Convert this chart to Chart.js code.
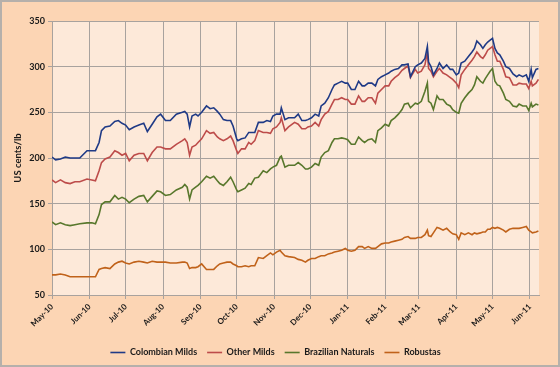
<!DOCTYPE html>
<html>
<head>
<meta charset="utf-8">
<script src="https://cdn.jsdelivr.net/npm/chart.js@4"></script>
<style>
  html, body { margin: 0; padding: 0; background: #ffffff; }
  #wrap { width: 560px; height: 367px; }
</style>
</head>
<body>
<div id="wrap"><canvas id="chart" width="560" height="367"></canvas></div>
<script>
// days since 1 May 2010
const days = [
  0, 3, 7, 11, 15, 19, 23, 29, 33, 36, 39, 41, 44, 48, 52, 55, 58, 61, 64, 68, 72, 76, 79, 83, 87, 90, 94, 98,
  103, 108, 110, 112, 114, 116, 119, 121, 124, 128, 131, 134, 137, 139, 142, 145, 148, 150, 153, 154, 157, 160,
  163, 165, 168, 171, 175, 178, 181, 183, 186, 189, 190, 193, 196,
  201, 204, 207, 210, 212, 215, 218, 221, 223, 226, 229, 232, 234, 237, 240, 243, 245, 248, 251, 254, 257, 259,
  262, 265, 268, 270, 273, 276, 279, 281, 284, 287, 290, 292, 295,
  297, 301, 303, 306, 309, 311, 312, 314, 316, 319, 321, 324, 327, 330, 332, 335, 337, 339, 342, 345, 348, 350,
  352, 355, 357, 359, 361, 363, 365, 367, 369, 371, 374, 376, 379, 382, 385, 387, 390, 393, 395, 397, 398, 401, 403
];

const colombianMilds = [
  201, 198, 199, 201, 200, 200, 200, 208, 208, 208, 217, 230, 234, 235, 240, 241, 238, 236, 231, 234, 236, 238, 229, 237, 245, 248, 241, 241,
  248, 250, 251, 248, 234, 246, 248, 246, 250, 257, 254, 255, 251, 248, 242, 241, 241, 235, 221, 219, 221, 222,
  228, 228, 228, 239, 239, 241, 240, 246, 248, 248, 255, 242, 244,
  244, 248, 241, 241, 242, 244, 248, 246, 257, 260, 266, 275, 280, 282, 284, 282, 282, 275, 275, 284, 279, 279,
  282, 282, 279, 286, 289, 291, 293, 295, 297, 298, 302, 302, 303,
  289, 300, 302, 304, 309, 322, 305, 300, 291, 298, 304, 298, 302, 297, 297, 291, 293, 304, 306, 311, 316, 320,
  328, 324, 320, 324, 327, 329, 331, 320, 315, 313, 306, 300, 298, 292, 289, 291, 289, 291, 284, 297, 288, 297, 298
];

const otherMilds = [
  176, 173, 176, 173, 172, 174, 174, 177, 176, 175, 186, 195, 199, 201, 208, 206, 203, 205, 197, 203, 205, 205, 197, 206, 212, 212, 210, 210,
  215, 219, 221, 217, 203, 212, 214, 217, 221, 230, 227, 228, 223, 221, 219, 221, 224, 219, 208, 205, 210, 210,
  217, 215, 219, 230, 228, 228, 227, 232, 234, 239, 244, 230, 234,
  239, 237, 232, 232, 234, 235, 239, 235, 242, 248, 251, 259, 264, 264, 266, 264, 264, 259, 259, 268, 262, 262,
  266, 266, 260, 271, 275, 279, 279, 284, 288, 291, 296, 298, 301,
  288, 297, 293, 295, 302, 316, 298, 295, 289, 295, 298, 293, 291, 288, 286, 282, 277, 291, 297, 302, 307, 311,
  316, 311, 309, 313, 318, 320, 322, 313, 306, 306, 297, 289, 288, 280, 280, 282, 281, 281, 276, 284, 279, 282, 286
];

const brazilianNaturals = [
  130, 127, 129, 127, 126, 127, 128, 129, 129, 128, 138, 149, 152, 152, 159, 155, 157, 155, 151, 155, 158, 159, 152, 158, 164, 163, 159, 160,
  165, 168, 171, 168, 155, 165, 168, 170, 174, 180, 178, 180, 175, 172, 170, 174, 179, 174, 165, 163, 165, 167,
  172, 171, 178, 179, 186, 184, 188, 190, 192, 201, 202, 190, 192,
  192, 195, 192, 188, 188, 190, 194, 192, 201, 206, 208, 217, 221, 221, 222, 221, 220, 215, 215, 223, 219, 217,
  220, 221, 217, 230, 233, 237, 235, 241, 244, 248, 253, 259, 260,
  255, 260, 259, 262, 273, 282, 262, 260, 253, 268, 264, 264, 259, 257, 253, 250, 249, 260, 266, 271, 275, 280,
  289, 284, 282, 287, 291, 295, 298, 284, 280, 279, 271, 264, 262, 257, 256, 259, 257, 257, 252, 260, 256, 259, 258
];

const robustas = [
  72, 72, 73, 72, 70, 70, 70, 70, 70, 70, 78, 79, 80, 79, 84, 86, 87, 85, 84, 86, 87, 86, 85, 87, 86, 86, 86, 85,
  85, 86, 86, 85, 79, 80, 80, 81, 84, 78, 78, 78, 82, 84, 85, 86, 86, 84, 82, 81, 81, 82,
  81, 82, 82, 91, 90, 93, 96, 94, 97, 99, 97, 93, 92,
  91, 89, 88, 86, 88, 90, 90, 92, 93, 93, 95, 96, 97, 98, 99, 101, 99, 98, 99, 103, 103, 101,
  103, 101, 101, 103, 106, 107, 107, 108, 109, 110, 111, 113, 114,
  112, 112, 113, 113, 116, 121, 115, 114, 118, 124, 123, 121, 123, 119, 117, 116, 111, 118, 116, 118, 116, 118,
  117, 118, 119, 119, 122, 122, 124, 123, 124, 123, 121, 119, 122, 123, 123, 123, 124, 125, 121, 119, 118, 119, 120
];

// month starts on the x axis (days since 1 May 2010) and their labels
const monthDays = [0, 31, 61, 92, 123, 153, 184, 214, 245, 276, 304, 335, 365, 396];
const monthLabels = ["May-10", "Jun-10", "Jul-10", "Aug-10", "Sep-10", "Oct-10", "Nov-10",
  "Dec-10", "Jan-11", "Feb-11", "Mar-11", "Apr-11", "May-11", "Jun-11"];

const seriesNames = ["Colombian Milds", "Other Milds", "Brazilian Naturals", "Robustas"];
const seriesColors = ["#1f3a86", "#bd4c4a", "#58772c", "#c0621a"];

const toPoints = (vals) => vals.map((v, i) => ({ x: days[i], y: v }));

const FONT = "Lato, 'Liberation Sans', Arial, sans-serif";
const gridColor = "#a8a29e";

// fondo del grafico y del area de trazado
const bgPlugin = {
  id: "bg",
  beforeDraw: (chart) => {
    const ctx = chart.ctx;
    const a = chart.chartArea;
    ctx.save();
    ctx.fillStyle = "#fcd5b4";
    ctx.fillRect(0, 0, chart.width, chart.height);
    ctx.strokeStyle = "#b5b0ab";
    ctx.lineWidth = 2;
    ctx.strokeRect(1, 1, chart.width - 2, chart.height - 2);
    ctx.fillStyle = "#fde9d9";
    ctx.fillRect(a.left, a.top, a.right - a.left, a.bottom - a.top);
    ctx.restore();
  },
};

const ctx = document.getElementById("chart").getContext("2d");
new Chart(ctx, {
  type: "line",
  data: {
    datasets: [colombianMilds, otherMilds, brazilianNaturals, robustas].map((vals, k) => ({
      label: seriesNames[k],
      data: toPoints(vals),
      borderColor: seriesColors[k],
      backgroundColor: seriesColors[k],
      borderWidth: 1.6,
      pointRadius: 0,
      tension: 0,
    })),
  },
  options: {
    responsive: false,
    animation: false,
    layout: { padding: { top: 21, right: 21, left: 12, bottom: 0 } },
    plugins: {
      tooltip: { enabled: false },
      legend: {
        position: "bottom",
        labels: {
          usePointStyle: true,
          pointStyle: "line",
          pointStyleWidth: 15,
          boxHeight: 8,
          padding: 10,
          color: "#1a1a1a",
          font: { family: FONT, size: 9, weight: "bold" },
        },
      },
    },
    scales: {
      x: {
        type: "linear",
        min: 0,
        max: 403.5,
        afterBuildTicks: (scale) => {
          scale.ticks = monthDays.map((v) => ({ value: v }));
        },
        afterFit: (scale) => {
          scale.height = 43;
        },
        ticks: {
          autoSkip: false,
          minRotation: 45,
          maxRotation: 45,
          color: "#1a1a1a",
          font: { family: FONT, size: 8, weight: "bold" },
          callback: (v) => monthLabels[monthDays.indexOf(v)],
        },
        grid: { color: gridColor, lineWidth: 1, tickLength: 4 },
        border: { color: gridColor },
      },
      y: {
        min: 50,
        max: 350,
        afterFit: (scale) => {
          scale.width = 40;
        },
        ticks: {
          stepSize: 50,
          color: "#1a1a1a",
          font: { family: FONT, size: 9, weight: "bold" },
        },
        title: {
          display: true,
          text: "US cents/lb",
          color: "#1a1a1a",
          font: { family: FONT, size: 9.5, weight: "bold" },
          padding: 0,
        },
        grid: { color: gridColor, lineWidth: 1, tickLength: 4 },
        border: { color: gridColor },
      },
    },
  },
  plugins: [bgPlugin],
});
</script>
</body>
</html>
